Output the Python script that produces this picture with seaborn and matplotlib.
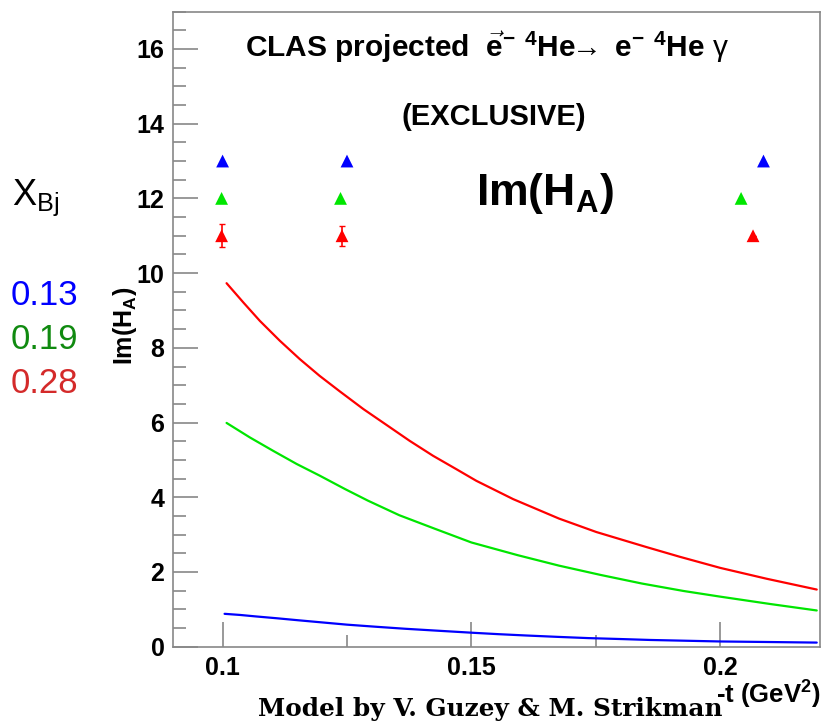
import numpy as np
import pandas as pd
import matplotlib
matplotlib.use("Agg")
import matplotlib.pyplot as plt
from matplotlib.ticker import MultipleLocator
import seaborn as sns

# model curves: -t (GeV^2) and Im(H_A)
t_red = [0.1008, 0.1042, 0.1075, 0.1115, 0.1155, 0.1195, 0.1236, 0.1283, 0.1329,
         0.1376, 0.1423, 0.147, 0.151, 0.1584, 0.1676, 0.1751, 0.1851, 0.1918,
         0.2, 0.2093, 0.2194]
im_red = [9.73, 9.21, 8.72, 8.19, 7.70, 7.25, 6.83, 6.36, 5.94,
          5.51, 5.11, 4.75, 4.44, 3.95, 3.43, 3.07, 2.67, 2.41,
          2.11, 1.82, 1.53]

t_green = [0.1008, 0.1055, 0.1102, 0.1149, 0.1195, 0.1246, 0.1292, 0.1355, 0.1426,
           0.15, 0.1593, 0.1676, 0.176, 0.1843, 0.1927, 0.2, 0.2102, 0.2194]
im_green = [5.99, 5.60, 5.24, 4.89, 4.58, 4.22, 3.91, 3.52, 3.16,
            2.79, 2.45, 2.17, 1.92, 1.69, 1.49, 1.34, 1.14, 0.97]

t_blue = [0.1004, 0.1035, 0.1067, 0.111, 0.115, 0.120, 0.125, 0.1307, 0.1367, 0.143,
          0.15, 0.1555, 0.161, 0.167, 0.1735, 0.180, 0.186, 0.193, 0.2, 0.21, 0.2194]
im_blue = [0.88, 0.85, 0.81, 0.76, 0.71, 0.65, 0.59, 0.535, 0.48, 0.43,
           0.375, 0.335, 0.30, 0.265, 0.23, 0.205, 0.18, 0.16, 0.14, 0.125, 0.11]

# projected CLAS points
pts_t_blue = [0.1, 0.125, 0.2087]
pts_y_blue = [13, 13, 13]
pts_t_green = [0.0998, 0.1237, 0.2042]
pts_y_green = [12, 12, 12]
pts_t_red = [0.0998, 0.124, 0.2066]
pts_y_red = [11, 11, 11]
pts_err_red = [0.31, 0.27, 0.0]

xbj_labels = ["0.13", "0.19", "0.28"]
xbj_colors = ["#0000ff", "#108a10", "#d42a2a"]

curves = pd.concat([
    pd.DataFrame({"t": t_blue, "im": im_blue, "xbj": "0.13"}),
    pd.DataFrame({"t": t_green, "im": im_green, "xbj": "0.19"}),
    pd.DataFrame({"t": t_red, "im": im_red, "xbj": "0.28"}),
])
points = pd.concat([
    pd.DataFrame({"t": pts_t_blue, "im": pts_y_blue, "xbj": "0.13"}),
    pd.DataFrame({"t": pts_t_green, "im": pts_y_green, "xbj": "0.19"}),
    pd.DataFrame({"t": pts_t_red, "im": pts_y_red, "xbj": "0.28"}),
])
line_pal = {"0.13": "#0000ff", "0.19": "#00e600", "0.28": "#ff0000"}

sns.set_theme(style="white")
plt.rcParams["font.family"] = ["Liberation Sans", "DejaVu Sans"]
plt.rcParams["text.color"] = "black"
plt.rcParams["axes.labelcolor"] = "black"
plt.rcParams["mathtext.fontset"] = "custom"
plt.rcParams["mathtext.rm"] = "Liberation Sans"
plt.rcParams["mathtext.bf"] = "Liberation Sans:bold"
plt.rcParams["mathtext.it"] = "Liberation Sans:italic"

fig = plt.figure(figsize=(8.23, 7.25), dpi=100)
ax = fig.add_axes([0.210, 0.108, 0.786, 0.876])

sns.lineplot(data=curves, x="t", y="im", hue="xbj", palette=line_pal,
             linewidth=1.6, legend=False, ax=ax)
sns.scatterplot(data=points, x="t", y="im", hue="xbj", palette=line_pal,
                marker="^", s=85, edgecolor="none", legend=False, ax=ax, zorder=3)
ax.errorbar(pts_t_red, pts_y_red, yerr=pts_err_red, fmt="none",
            ecolor="#ff0000", elinewidth=1.2, capsize=2, zorder=2)

ax.set_xlim(0.09, 0.22)
ax.set_ylim(0, 17)
ax.set_xticks([0.1, 0.15, 0.2])
ax.set_xticklabels(["0.1", "0.15", "0.2"])
ax.xaxis.set_minor_locator(MultipleLocator(0.025))
ax.set_yticks(range(0, 17, 2))
ax.yaxis.set_minor_locator(MultipleLocator(0.5))
ax.tick_params(which="both", direction="in", color="#888888", width=1.2,
               labelcolor="black", labelsize=18, left=True, bottom=True,
               top=False, right=False)
ax.tick_params(axis="y", which="both", pad=6)
ax.tick_params(axis="x", which="both", pad=7)
ax.tick_params(which="major", length=18)
ax.tick_params(which="minor", length=9)
for lab in ax.get_xticklabels() + ax.get_yticklabels():
    lab.set_fontweight("bold")
for sp in ax.spines.values():
    sp.set_color("#888888")
    sp.set_linewidth(1.2)

ax.set_xlabel("")
ax.set_ylabel(r"Im(H$_{\mathbf{A}}$)", fontsize=18, fontweight="bold")
ax.yaxis.set_label_coords(-0.052, 0.505)
fig.text(0.997, 0.030, r"-t (GeV$^{\mathbf{2}}$)", ha="right", va="baseline",
         fontsize=18.5, fontweight="bold")

ax.text(0.486, 0.929,
        r"CLAS projected  $\mathbf{\vec{e}^{-}}$ $\mathbf{^{4}He}\!\!\rightarrow\!\!$  e$^{\mathbf{-}}$ $\mathbf{^{4}He}$ $\mathrm{\gamma}$",
        transform=ax.transAxes, ha="center", va="baseline", fontsize=21.5, fontweight="bold")
ax.text(0.496, 0.822, "(EXCLUSIVE)", transform=ax.transAxes, ha="center",
        va="baseline", fontsize=21, fontweight="bold")
ax.text(0.575, 0.696, r"Im(H$_{\mathbf{A}}$)", transform=ax.transAxes, ha="center",
        va="baseline", fontsize=32, fontweight="bold")

fig.text(0.3135, 0.013, "Model by V. Guzey & M. Strikman", ha="left", va="baseline",
         fontsize=17.8, fontweight="bold", family="DejaVu Serif")

fig.text(0.014, 0.7172, r"X$_{\mathregular{Bj}}$", ha="left", va="baseline", fontsize=26)
for i, (lab, col) in enumerate(zip(xbj_labels, xbj_colors)):
    fig.text(0.013, 0.5793 - i * 0.0607, lab, color=col, ha="left", va="baseline",
             fontsize=25)

fig.savefig("out.png", dpi=100)
